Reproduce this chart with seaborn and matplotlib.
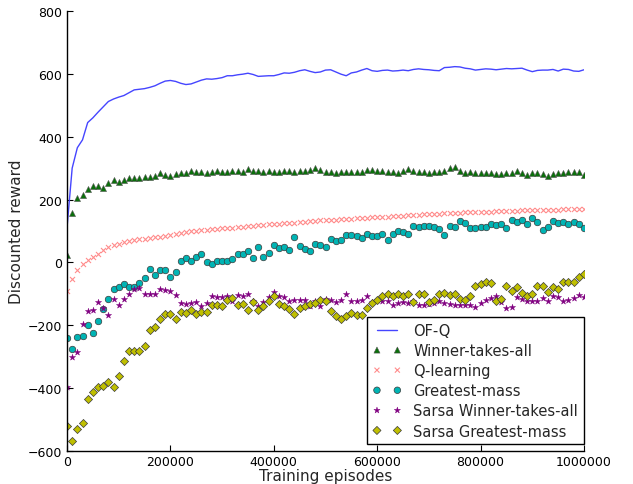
import numpy as np
import pandas as pd
import matplotlib
matplotlib.use("Agg")
import matplotlib.pyplot as plt
import seaborn as sns

# Evaluation every 10000 training episodes
episodes = np.arange(0, 1000001, 10000)

of_q = [110, 300, 365, 390, 445, 460, 478, 495, 512, 520,
        526, 531, 540, 549, 551, 553, 557, 562, 570, 577,
        579, 576, 570, 566, 568, 574, 580, 584, 583, 585,
        588, 594, 594, 597, 599, 602, 598, 592, 593, 594,
        594, 598, 603, 602, 605, 610, 613, 608, 604, 606,
        612, 613, 606, 599, 594, 603, 606, 612, 617, 610,
        608, 611, 612, 609, 610, 612, 610, 614, 616, 614,
        613, 611, 610, 620, 621, 623, 622, 618, 616, 612,
        614, 616, 615, 613, 615, 617, 616, 617, 618, 612,
        607, 611, 612, 612, 614, 609, 615, 614, 609, 608,
        613]

winner_takes_all = [25, 158, 204, 214, 235, 243, 243, 238, 252, 262,
                    257, 262, 268, 270, 270, 271, 271, 274, 283, 279,
                    275, 280, 283, 283, 292, 287, 289, 286, 288, 290,
                    288, 289, 290, 292, 288, 296, 291, 290, 289, 290,
                    288, 287, 290, 291, 288, 290, 292, 295, 301, 294,
                    288, 288, 285, 287, 288, 288, 287, 288, 293, 293,
                    292, 292, 289, 289, 285, 291, 297, 290, 289, 288,
                    284, 288, 289, 292, 299, 303, 290, 286, 287, 284,
                    283, 283, 283, 282, 280, 286, 283, 290, 285, 279,
                    285, 286, 282, 274, 282, 284, 286, 287, 288, 288,
                    279]

q_learning = [-90, -52, -25, -6, 7, 17, 28, 40, 50, 55,
              60, 64, 67, 70, 73, 76, 78, 80, 82, 85,
              88, 91, 94, 97, 100, 101, 103, 104, 106, 107,
              109, 110, 111, 113, 114, 116, 117, 118, 120, 121,
              122, 123, 124, 126, 127, 128, 129, 131, 132, 134,
              134, 135, 136, 137, 138, 139, 140, 141, 142, 143,
              144, 145, 146, 147, 148, 149, 150, 151, 152, 153,
              153, 154, 155, 156, 157, 158, 158, 159, 160, 161,
              161, 162, 162, 163, 164, 164, 165, 165, 166, 166,
              166, 167, 167, 168, 168, 168, 169, 169, 169, 170,
              170]

greatest_mass = [-240, -275, -238, -235, -200, -224, -187, -147, -115, -83,
                 -77, -70, -77, -79, -67, -49, -20, -41, -24, -24,
                 -45, -30, 4, 14, 6, 17, 26, 1, -6, 6,
                 4, 4, 12, 26, 26, 37, 15, 49, 17, 31,
                 55, 47, 49, 38, 81, 52, 44, 37, 60, 57,
                 49, 75, 68, 71, 88, 88, 85, 77, 90, 83,
                 85, 90, 71, 90, 101, 96, 92, 115, 113, 117,
                 117, 114, 106, 86, 115, 113, 133, 126, 111, 109,
                 113, 113, 122, 119, 123, 111, 136, 129, 136, 121,
                 141, 129, 103, 114, 132, 127, 129, 122, 129, 121,
                 111]

sarsa_winner_takes_all = [-396, -300, -286, -195, -155, -150, -126, -146, -166, -116,
                          -136, -117, -99, -86, -81, -99, -99, -99, -83, -88,
                          -92, -104, -129, -133, -129, -125, -138, -130, -106, -109,
                          -109, -106, -122, -104, -106, -102, -122, -138, -127, -109,
                          -95, -106, -111, -122, -120, -119, -119, -138, -122, -140,
                          -116, -119, -125, -119, -99, -124, -123, -120, -106, -125,
                          -119, -122, -122, -135, -129, -125, -129, -122, -136, -136,
                          -131, -130, -122, -129, -131, -134, -137, -137, -137, -141,
                          -130, -119, -114, -106, -125, -144, -141, -110, -116, -122,
                          -122, -122, -114, -122, -106, -110, -122, -119, -114, -104,
                          -110]

sarsa_greatest_mass = [-519, -569, -529, -511, -434, -413, -397, -392, -380, -397,
                       -361, -315, -282, -282, -282, -265, -215, -207, -180, -164,
                       -164, -180, -157, -161, -151, -163, -157, -159, -134, -135,
                       -138, -120, -114, -135, -131, -150, -125, -151, -140, -122,
                       -106, -132, -140, -148, -163, -145, -140, -132, -129, -118,
                       -124, -153, -171, -179, -172, -161, -166, -166, -144, -129,
                       -118, -106, -101, -106, -99, -106, -101, -127, -101, -101,
                       -127, -118, -99, -97, -104, -102, -116, -118, -106, -74,
                       -69, -63, -66, -122, -116, -74, -92, -79, -97, -106,
                       -101, -74, -76, -93, -79, -85, -61, -63, -61, -47,
                       -38]

x_ticks = [0, 200000, 400000, 600000, 800000, 1000000]
y_ticks = [-600, -400, -200, 0, 200, 400, 600, 800]

sns.set_style("white")
plt.rcParams["font.family"] = ["DejaVu Sans"]

fig = plt.figure(figsize=(6.33, 4.85), dpi=100)
ax = fig.add_axes([67 / 633, 33 / 485, 517 / 633, 440 / 485])

sns.lineplot(x=episodes, y=of_q, ax=ax, color="#3b3bff", lw=1.0,
             alpha=0.95, label="OF-Q")
sns.scatterplot(x=episodes, y=winner_takes_all, ax=ax, marker="^", s=19,
                color="#0a700a", edgecolor="#555555", linewidth=0.4,
                label="Winner-takes-all")
sns.scatterplot(x=episodes, y=q_learning, ax=ax, marker="x", s=13,
                color="#ff7070", linewidth=0.8, alpha=0.8,
                label="Q-learning")
sns.scatterplot(x=episodes, y=greatest_mass, ax=ax, marker="o", s=22,
                color="#00b4b4", edgecolor="#3a3a3a", linewidth=0.5,
                label="Greatest-mass")
sns.scatterplot(x=episodes, y=sarsa_winner_takes_all, ax=ax, marker="*", s=22,
                color="#800080", edgecolor="#800080", linewidth=0.3,
                label="Sarsa Winner-takes-all")
sns.scatterplot(x=episodes, y=sarsa_greatest_mass, ax=ax, marker="D", s=17,
                color="#bfbf00", edgecolor="#3a3a3a", linewidth=0.5,
                label="Sarsa Greatest-mass")

ax.set_xlim(0, 1000000)
ax.set_ylim(-600, 800)
ax.set_xticks(x_ticks)
ax.set_yticks(y_ticks)
ax.ticklabel_format(style="plain", axis="x", useOffset=False)
ax.tick_params(direction="in", length=4, width=0.8, labelsize=9,
               top=False, right=False, bottom=True, left=True, colors="black")
ax.tick_params(axis="x", pad=3)
for side in ("top", "right"):
    ax.spines[side].set_visible(False)
for side in ("left", "bottom"):
    ax.spines[side].set_color("black")
    ax.spines[side].set_linewidth(1.0)

ax.set_xlabel("Training episodes", fontsize=11, labelpad=0)
ax.set_ylabel("Discounted reward", fontsize=11, labelpad=3)

leg = ax.legend(loc="lower right", bbox_to_anchor=(1.0, 0.015),
                borderaxespad=0.0, scatterpoints=2, numpoints=2,
                scatteryoffsets=[0.5], fontsize=10.5, fancybox=False,
                framealpha=1.0, edgecolor="black", handlelength=2.0,
                labelspacing=0.35)
leg.get_frame().set_linewidth(1.0)

fig.savefig("out.png", dpi=100)
